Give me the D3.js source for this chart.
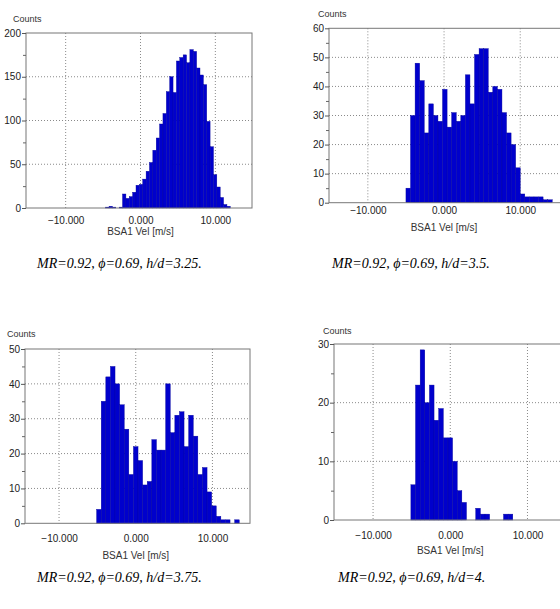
<!DOCTYPE html>
<html>
<head>
<meta charset="utf-8">
<script src="https://cdn.jsdelivr.net/npm/d3@7"></script>
<style>
body { margin: 0; background: #fff; }
svg { display: block; }
</style>
</head>
<body>
<svg id="fig" width="560" height="609"></svg>
<script>
// histogram counts (BSA1 velocity, m/s)
var counts325 = [1, 2, 1, 0, 1, 16, 11, 13, 18, 26, 27, 33, 42, 52, 66, 80, 96, 108, 133, 150,
                 132, 168, 172, 175, 166, 181, 179, 160, 152, 141, 99, 70, 38, 24, 12, 4, 2]
var start325 = -4.65, width325 = 0.45

var counts35 = [5, 30, 48, 42, 24, 34, 30, 28, 39, 26, 31, 28, 30, 44, 34, 51, 53, 53, 38, 40,
                39, 31, 24, 20, 12, 3, 2, 2, 2, 2, 1, 1]
var start35 = -5.0, width35 = 0.6

var counts375 = [4, 35, 42, 45, 40, 34, 27, 14, 22, 18, 11, 12, 24, 21, 21, 40, 26, 31, 32, 22,
                 31, 25, 14, 16, 9, 5, 2, 1, 1, 0, 1]
var start375 = -5.1, width375 = 0.6

var counts4 = [6, 23, 29, 20, 23, 17, 19, 14, 14, 10, 5, 3, 0, 0, 2, 1, 1, 0, 0, 0, 1, 1]
var start4 = -5.1, width4 = 0.6

var xTicks = [-10, 0, 10]
var yTicks325 = [0, 50, 100, 150, 200]
var yTicks35 = [0, 10, 20, 30, 40, 50, 60]
var yTicks375 = [0, 10, 20, 30, 40, 50]
var yTicks4 = [0, 10, 20, 30]

var captions = ["MR=0.92, \u03d5=0.69, h/d=3.25.", "MR=0.92, \u03d5=0.69, h/d=3.5.",
                "MR=0.92, \u03d5=0.69, h/d=3.75.", "MR=0.92, \u03d5=0.69, h/d=4."]

// where each panel sits on the page
var panels = [
    {counts: counts325, start: start325, width: width325, yTicks: yTicks325, caption: captions[0],
     left: 26, right: 252, top: 33, bottom: 208, xMin: -15.3, xMax: 14.9,
     countsX: 13, countsY: 22, tickY: 223.5, titleY: 234.5, capX: 37, capY: 268},
    {counts: counts35, start: start35, width: width35, yTicks: yTicks35, caption: captions[1],
     left: 329, right: 561, top: 28.3, bottom: 202.7, xMin: -15.1, xMax: 15.35,
     countsX: 318, countsY: 17, tickY: 214.5, titleY: 231, capX: 332, capY: 268},
    {counts: counts375, start: start375, width: width375, yTicks: yTicks375, caption: captions[2],
     left: 25, right: 250, top: 349, bottom: 523.3, xMin: -14.44, xMax: 14.9,
     countsX: 7, countsY: 337, tickY: 542.5, titleY: 558.5, capX: 37, capY: 582},
    {counts: counts4, start: start4, width: width4, yTicks: yTicks4, caption: captions[3],
     left: 334, right: 568, top: 344, bottom: 520, xMin: -15.06, xMax: 15.25,
     countsX: 323, countsY: 334, tickY: 538.5, titleY: 553.5, capX: 338, capY: 582}
]

var svg = d3.select("#fig")
var fmt = d3.format(".3f")

panels.forEach(function(p) {
    var g = svg.append("g")

    var xScale = d3.scaleLinear()
                   .domain([p.xMin, p.xMax])
                   .range([p.left, p.right])
    var yMax = p.yTicks[p.yTicks.length - 1]
    var yScale = d3.scaleLinear()
                   .domain([0, yMax])
                   .range([p.bottom, p.top])

    // dotted grid
    g.append("g")
     .selectAll("line")
     .data(xTicks)
     .enter()
     .append("line")
     .attr("x1", d => xScale(d))
     .attr("x2", d => xScale(d))
     .attr("y1", p.top)
     .attr("y2", p.bottom)
     .attr("stroke", "#8a8a8a")
     .attr("stroke-dasharray", "1,2")
    g.append("g")
     .selectAll("line")
     .data(p.yTicks.slice(1, -1))
     .enter()
     .append("line")
     .attr("x1", p.left)
     .attr("x2", p.right)
     .attr("y1", d => yScale(d))
     .attr("y2", d => yScale(d))
     .attr("stroke", "#8a8a8a")
     .attr("stroke-dasharray", "1,2")

    // bars
    var bins = p.counts.map((c, i) => ({x0: p.start + i * p.width, x1: p.start + (i + 1) * p.width, n: c}))
    g.append("g")
     .selectAll("rect")
     .data(bins.filter(d => d.n > 0))
     .enter()
     .append("rect")
     .attr("x", d => xScale(d.x0))
     .attr("width", d => xScale(d.x1) - xScale(d.x0))
     .attr("y", d => yScale(d.n))
     .attr("height", d => yScale(0) - yScale(d.n))
     .attr("fill", "#0000cc")
     .attr("stroke", "#00009a")
     .attr("stroke-width", 0.4)

    // frame
    g.append("rect")
     .attr("x", p.left)
     .attr("y", p.top)
     .attr("width", p.right - p.left)
     .attr("height", p.bottom - p.top)
     .attr("fill", "none")
     .attr("stroke", "#777")

    // y axis: major ticks with labels, minor ticks in between
    var minor = p.yTicks.slice(1).map((t, i) => (t + p.yTicks[i]) / 2)
    var minorAxis = g.append("g")
                     .attr("transform", `translate(${p.left},0)`)
                     .call(d3.axisLeft(yScale).tickValues(minor).tickSize(3).tickFormat(""))
    var yAxis = g.append("g")
                 .attr("transform", `translate(${p.left},0)`)
                 .call(d3.axisLeft(yScale).tickValues(p.yTicks).tickSize(4).tickPadding(1))
    minorAxis.select(".domain").remove()
    yAxis.select(".domain").remove()
    minorAxis.selectAll("line").attr("stroke", "#666")
    yAxis.selectAll("line").attr("stroke", "#555")
    yAxis.selectAll("text")
         .attr("font-family", "Liberation Sans, Arial, sans-serif")
         .attr("font-size", 10)
         .attr("fill", "#222")

    // x tick labels
    var xAxis = g.append("g")
                 .attr("transform", `translate(0,${p.bottom})`)
                 .call(d3.axisBottom(xScale).tickValues(xTicks).tickSize(0)
                         .tickPadding(p.tickY - p.bottom - 7.1).tickFormat(fmt))
    xAxis.select(".domain").remove()
    xAxis.selectAll("text")
         .attr("font-family", "Liberation Sans, Arial, sans-serif")
         .attr("font-size", 10)
         .attr("fill", "#222")

    g.append("text")
     .attr("x", xScale(0))
     .attr("y", p.titleY)
     .attr("text-anchor", "middle")
     .attr("font-family", "Liberation Sans, Arial, sans-serif")
     .attr("font-size", 10)
     .attr("fill", "#333")
     .text("BSA1 Vel [m/s]")

    g.append("text")
     .attr("x", p.countsX)
     .attr("y", p.countsY)
     .attr("font-family", "Liberation Sans, Arial, sans-serif")
     .attr("font-size", 9)
     .attr("fill", "#333")
     .text("Counts")

    svg.append("text")
       .attr("x", p.capX)
       .attr("y", p.capY)
       .attr("font-family", "Liberation Serif, Times New Roman, serif")
       .attr("font-style", "italic")
       .attr("font-size", 14)
       .attr("fill", "#000")
       .text(p.caption)
})
</script>
</body>
</html>
